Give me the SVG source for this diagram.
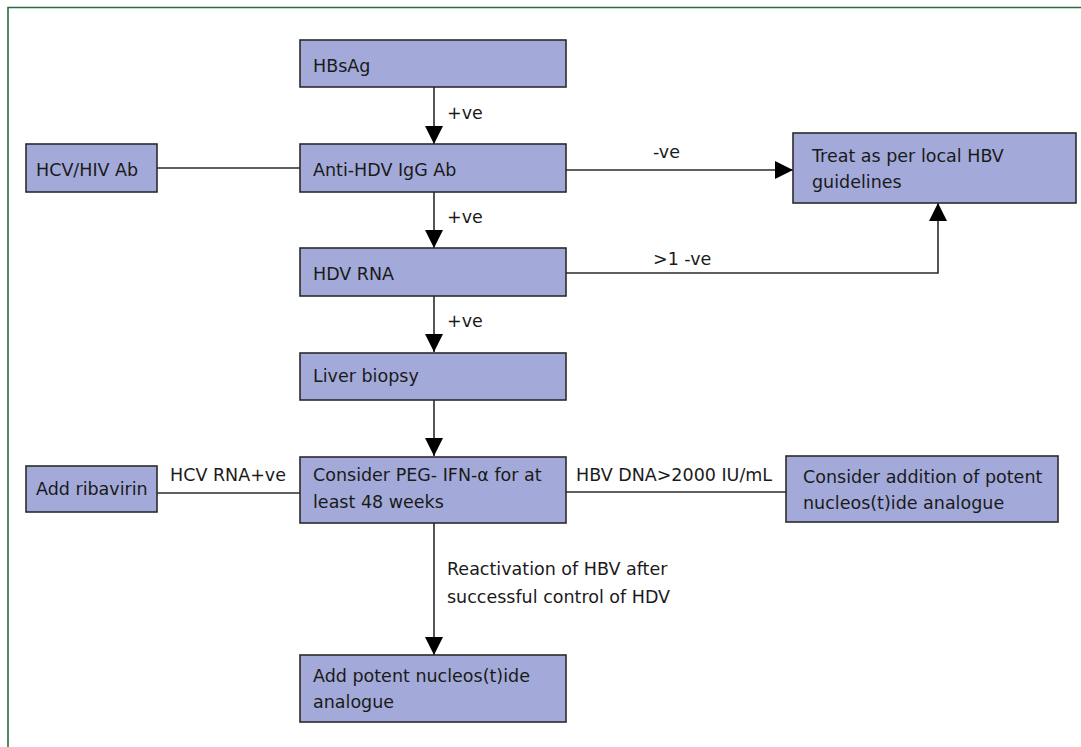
<svg xmlns="http://www.w3.org/2000/svg" width="1081" height="747" viewBox="0 0 1081 747">
<style>
.box{fill:#a3aad9;stroke:#2b2b2b;stroke-width:1.6}
.t{font-family:"DejaVu Sans",sans-serif;font-size:17.5px;fill:#1a1a1a}
.c{fill:none;stroke:#2b2b2b;stroke-width:1.6}
</style>
<defs>
<marker id="ah" markerUnits="userSpaceOnUse" markerWidth="18" markerHeight="18" viewBox="0 0 16 16" refX="16" refY="8" orient="auto">
<path d="M0,0 L16,8 L0,16 Z" fill="#000"/>
</marker>
</defs>
<rect width="1081" height="747" fill="#fff"/>
<path d="M8,747 V7.5 H1081" fill="none" stroke="#2a6e3f" stroke-width="1.6"/>
<g id="connectors">
<line class="c" x1="434" y1="87" x2="434" y2="144" marker-end="url(#ah)"/>
<line class="c" x1="434" y1="192" x2="434" y2="248" marker-end="url(#ah)"/>
<line class="c" x1="434" y1="296" x2="434" y2="352" marker-end="url(#ah)"/>
<line class="c" x1="434" y1="400" x2="434" y2="456" marker-end="url(#ah)"/>
<line class="c" x1="434" y1="523" x2="434" y2="655" marker-end="url(#ah)"/>
<line class="c" x1="566" y1="170" x2="793" y2="170" marker-end="url(#ah)"/>
<polyline class="c" points="566,273 938,273 938,203" marker-end="url(#ah)"/>
<line class="c" x1="157" y1="168" x2="300" y2="168"/>
<line class="c" x1="157" y1="493" x2="300" y2="493"/>
<line class="c" x1="566" y1="492" x2="786" y2="492"/>
<text class="t" x="447" y="119">+ve</text>
<text class="t" x="447" y="223">+ve</text>
<text class="t" x="447" y="327">+ve</text>
<text class="t" x="653" y="158">-ve</text>
<text class="t" x="653" y="265">&gt;1 -ve</text>
<text class="t" x="170" y="481">HCV RNA+ve</text>
<text class="t" x="576" y="481">HBV DNA&gt;2000 IU/mL</text>
<text class="t" x="447" y="575">Reactivation of HBV after</text>
<text class="t" x="447" y="603">successful control of HDV</text>
</g>
<g id="hbsag"><rect class="box" x="300" y="40" width="266" height="47"/><text class="t" x="313" y="72">HBsAg</text></g>
<g id="antihdv"><rect class="box" x="300" y="144" width="266" height="48"/><text class="t" x="313" y="176">Anti-HDV IgG Ab</text></g>
<g id="hcvhiv"><rect class="box" x="26" y="144" width="131" height="48"/><text class="t" x="36" y="176">HCV/HIV Ab</text></g>
<g id="treat"><rect class="box" x="793" y="133" width="283" height="70"/><text class="t" x="812" y="162">Treat as per local HBV</text><text class="t" x="812" y="188">guidelines</text></g>
<g id="hdvrna"><rect class="box" x="300" y="248" width="266" height="48"/><text class="t" x="313" y="280">HDV RNA</text></g>
<g id="biopsy"><rect class="box" x="300" y="353" width="266" height="47"/><text class="t" x="313" y="382">Liver biopsy</text></g>
<g id="peg"><rect class="box" x="300" y="457" width="266" height="66"/><text class="t" x="313" y="481">Consider PEG- IFN-α for at</text><text class="t" x="313" y="508">least 48 weeks</text></g>
<g id="ribavirin"><rect class="box" x="26" y="466" width="131" height="46"/><text class="t" x="36" y="495">Add ribavirin</text></g>
<g id="addition"><rect class="box" x="786" y="456" width="272" height="66"/><text class="t" x="803" y="483">Consider addition of potent</text><text class="t" x="803" y="509">nucleos(t)ide analogue</text></g>
<g id="addpotent"><rect class="box" x="300" y="655" width="266" height="67"/><text class="t" x="313" y="682">Add potent nucleos(t)ide</text><text class="t" x="313" y="708">analogue</text></g>
</svg>
